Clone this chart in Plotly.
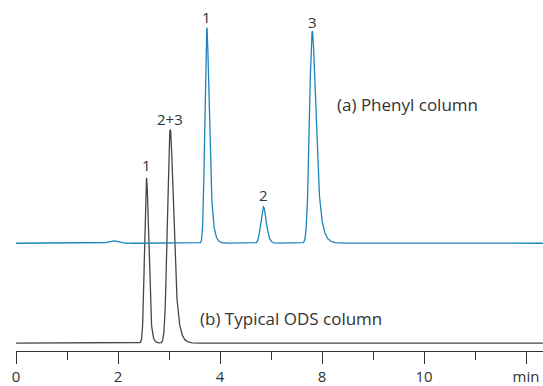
import numpy as np
import plotly.graph_objects as go

# ---- data (x in axis units, y in px above axis) ----
tick_vals = [0, 2, 4, 6, 8, 10]
tick_text = ["0", "2", "4", "8", "10", "min"]
minor_vals = [1, 3, 5, 7, 9]

phenyl_baseline = 109
phenyl_times = [1.90, 3.74, 4.85, 5.81]
phenyl_heights = [2.5, 218, 37, 214]
phenyl_sigmas = [0.08, 0.032, 0.045, 0.045]
phenyl_taus = [0.0, 0.045, 0.035, 0.07]
phenyl_labels = ["", "1", "2", "3"]
phenyl_label_y = [None, 338, 158, 333]

ods_baseline = 8
ods_times = [2.56, 3.025]
ods_heights = [167, 216]
ods_sigmas = [0.033, 0.045]
ods_taus = [0.03, 0.06]
ods_labels = ["1", "2+3"]
ods_label_y = [188, 235]

x_max = 10.333
t = np.arange(0, x_max + 1e-9, 0.003)


def peak(tt, tr, h, s, tau):
    dt = tt[1] - tt[0]
    g = np.exp(-0.5 * ((tt - tr) / s) ** 2)
    if tau > 0:
        k = np.exp(-np.arange(0, 12 * tau, dt) / tau)
        y = np.convolve(g, k)[: len(tt)]
        y = np.roll(y, int(np.argmax(g)) - int(np.argmax(y)))
    else:
        y = g
    return y / y.max() * h


def trace_y(base, times, heights, sigmas, taus):
    y = np.full_like(t, float(base))
    for tr, h, s, tau in zip(times, heights, sigmas, taus):
        y += peak(t, tr, h, s, tau)
    return y


blue = "#1c84bd"
dark = "#45454d"
text_col = "#333333"
font_fam = "Open Sans, Noto Sans, sans-serif"

fig = go.Figure()
fig.add_trace(go.Scatter(x=t, y=trace_y(ods_baseline, ods_times, ods_heights, ods_sigmas, ods_taus),
                         mode="lines", line=dict(color=dark, width=1.3), hoverinfo="skip"))
fig.add_trace(go.Scatter(x=t, y=trace_y(phenyl_baseline, phenyl_times, phenyl_heights, phenyl_sigmas, phenyl_taus),
                         mode="lines", line=dict(color=blue, width=1.3), hoverinfo="skip"))

anns = []
for tr, lab, ly in zip(phenyl_times, phenyl_labels, phenyl_label_y):
    if lab:
        anns.append(dict(x=tr, y=ly, text=lab, showarrow=False, xanchor="center", yanchor="middle",
                         font=dict(size=15, color=text_col, family=font_fam)))
for tr, lab, ly in zip(ods_times, ods_labels, ods_label_y):
    anns.append(dict(x=tr, y=ly, text=lab, showarrow=False, xanchor="center", yanchor="middle",
                     font=dict(size=15, color=text_col, family=font_fam)))
anns.append(dict(x=6.26, y=249, text="(a) Phenyl column", showarrow=False, xanchor="left", yanchor="middle",
                 font=dict(size=17, color=text_col, family=font_fam)))
anns.append(dict(x=3.56, y=33, text="(b) Typical ODS column", showarrow=False, xanchor="left", yanchor="middle",
                 font=dict(size=17, color=text_col, family=font_fam)))

fig.update_layout(
    width=543, height=386,
    margin=dict(l=16, r=0, t=0, b=31, pad=0),
    paper_bgcolor="white", plot_bgcolor="white",
    showlegend=False,
    annotations=anns,
    xaxis=dict(range=[0, x_max], showgrid=False, zeroline=False,
               showline=True, linecolor=text_col, linewidth=1,
               tickmode="array", tickvals=tick_vals, ticktext=tick_text,
               ticks="outside", ticklen=12, tickwidth=1, tickcolor=text_col,
               tickfont=dict(size=15, color=text_col, family=font_fam),
               minor=dict(tickmode="array", tickvals=minor_vals, ticks="outside", ticklen=8,
                          tickwidth=1, tickcolor=text_col, showgrid=False)),
    yaxis=dict(range=[0, 355], visible=False, showgrid=False, zeroline=False),
)

fig.write_html("out.html")
